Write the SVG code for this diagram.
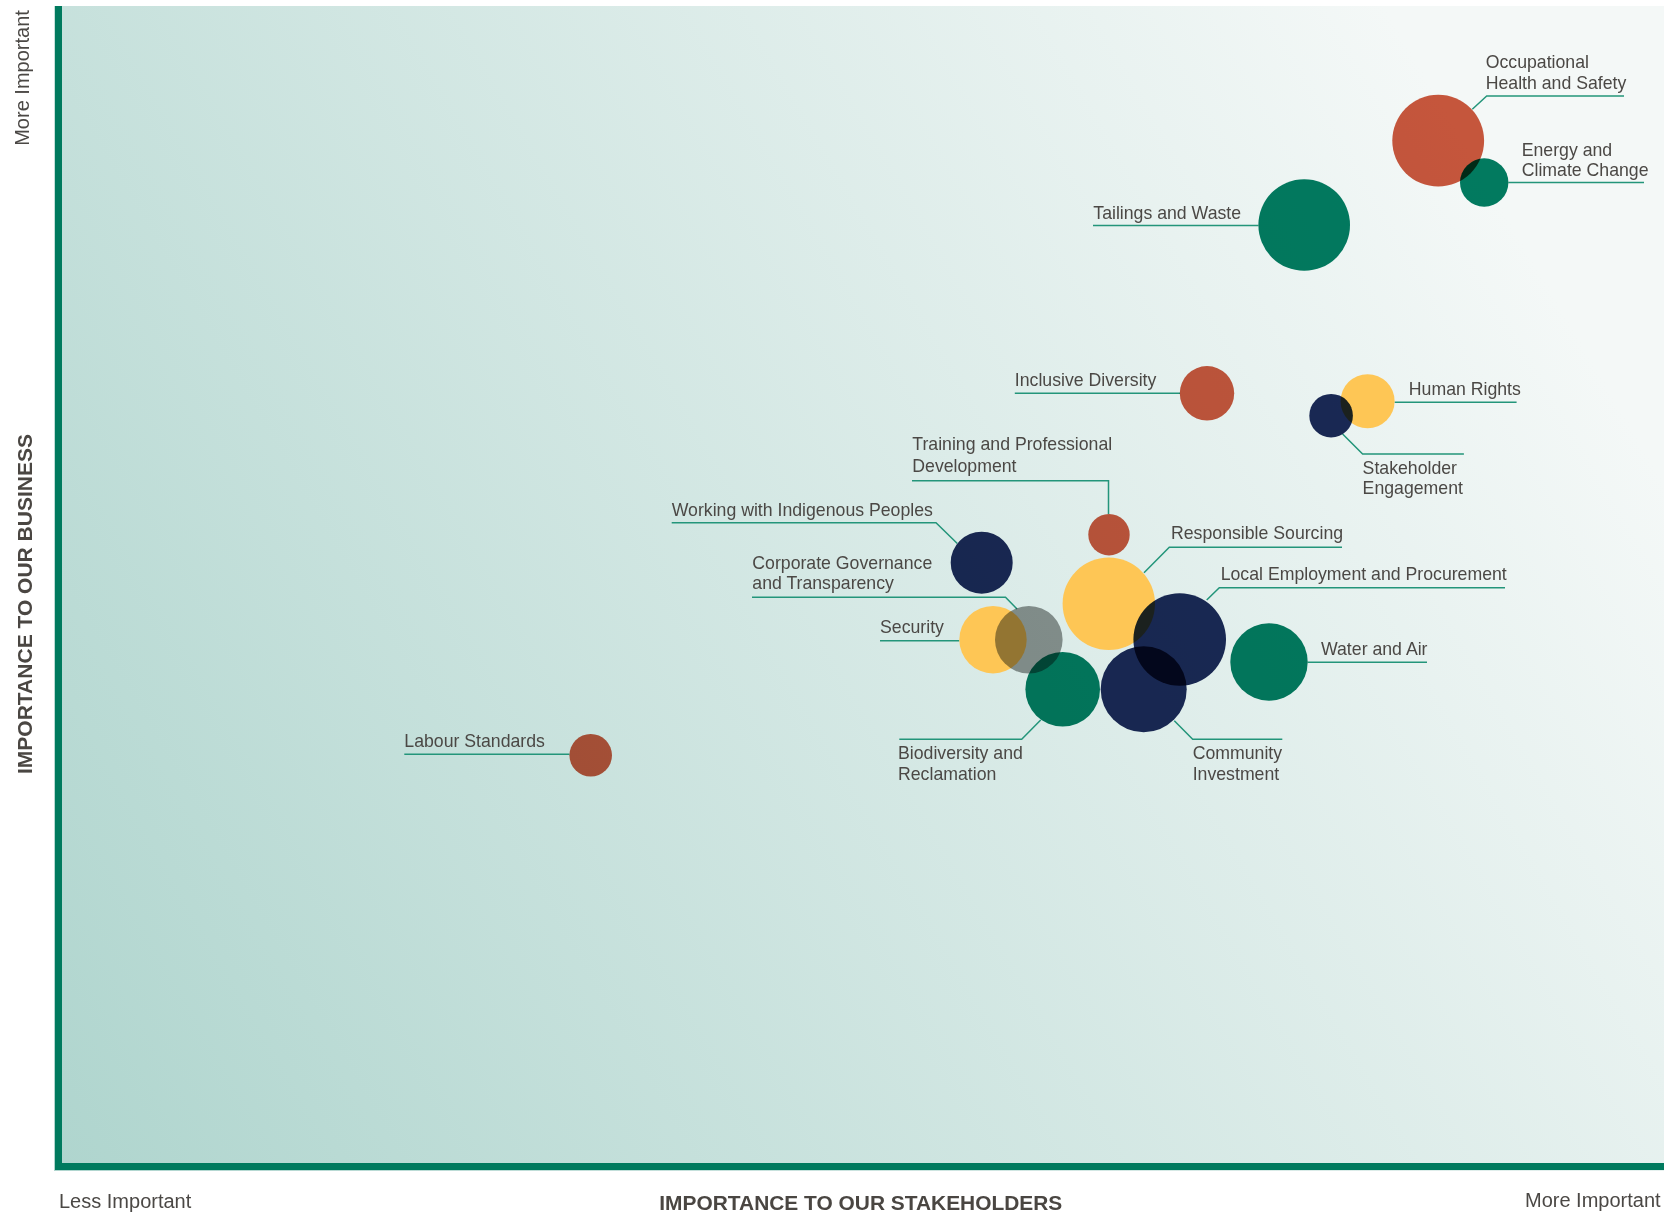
<svg xmlns="http://www.w3.org/2000/svg" width="1664" height="1215" viewBox="0 0 1664 1215">
<defs>
<linearGradient id="bg" gradientUnits="userSpaceOnUse" x1="58" y1="1170" x2="1553" y2="293">
<stop offset="0" stop-color="#afd5ce"/>
<stop offset="1" stop-color="#f4f8f7"/>
</linearGradient>
<style>
.lbl{font-family:"Liberation Sans",Arial,sans-serif;font-size:17.7px;fill:#4b4845}
.ax{font-family:"Liberation Sans",Arial,sans-serif;font-size:20px;fill:#4b4845}
.ttl{font-family:"Liberation Sans",Arial,sans-serif;font-size:19.5px;font-weight:700;fill:#4a4642}
.ttl2{font-family:"Liberation Sans",Arial,sans-serif;font-size:21px;font-weight:700;fill:#4a4642}
.ln{fill:none;stroke:#23957a;stroke-width:1.5}
.m{mix-blend-mode:multiply}
.red{fill:#ce583e}
.grn{fill:#027d62}
.nvy{fill:#1b2a58}
.yel{fill:#fec655}
.gry{fill:#949796}
</style>
</defs>
<rect x="0" y="0" width="1664" height="1215" fill="#ffffff"/>
<rect x="54" y="6" width="1610" height="1165" fill="url(#bg)"/>
<rect x="55" y="6" width="7" height="1164" fill="#007a5e"/>
<rect x="55" y="1163" width="1609" height="7" fill="#007a5e"/>

<g id="axes">
<text class="ax" x="59" y="1208">Less Important</text>
<text class="ax" x="1525" y="1207">More Important</text>
<text class="ttl" x="659.3" y="1210" textLength="403" lengthAdjust="spacingAndGlyphs">IMPORTANCE TO OUR STAKEHOLDERS</text>
<text class="ax" text-anchor="middle" transform="translate(28.5,78) rotate(-90)">More Important</text>
<text class="ttl2" text-anchor="middle" transform="translate(32,604) rotate(-90)" textLength="340" lengthAdjust="spacingAndGlyphs">IMPORTANCE TO OUR BUSINESS</text>
</g>

<g id="connectors">
<polyline class="ln" points="1472.3,109.3 1486.7,96 1624,96"/>
<polyline class="ln" points="1508.4,182.5 1644,182.5"/>
<polyline class="ln" points="1093,225.5 1258.4,225.5"/>
<polyline class="ln" points="1014.8,393.3 1180,393.3"/>
<polyline class="ln" points="1394.6,402.3 1516.6,402.3"/>
<polyline class="ln" points="1342.6,434 1362.6,454 1463.9,454"/>
<polyline class="ln" points="912,480.7 1108.5,480.7 1108.5,514"/>
<polyline class="ln" points="671.7,522.7 936,522.7 957.3,543.5"/>
<polyline class="ln" points="1144,572.7 1169.3,547.3 1342,547.3"/>
<polyline class="ln" points="1206.7,600 1219.3,587.7 1505,587.7"/>
<polyline class="ln" points="752,597.2 1005.5,597.2 1017,609"/>
<polyline class="ln" points="880,640.7 959.3,640.7"/>
<polyline class="ln" points="1307.7,662.3 1427,662.3"/>
<polyline class="ln" points="899.3,739.3 1021.7,739.3 1040.7,720"/>
<polyline class="ln" points="1174.3,720.7 1192.7,739.3 1282.3,739.3"/>
<polyline class="ln" points="404.3,754.3 569.4,754.3"/>
</g>

<g id="human-rights">
<circle class="yel" cx="1367.6" cy="401.2" r="27"/>
<text class="lbl" x="1408.8" y="395">Human Rights</text>
</g>
<g id="responsible-sourcing">
<circle class="yel" cx="1108.8" cy="603.8" r="46.2"/>
<text class="lbl" x="1171" y="539.3">Responsible Sourcing</text>
</g>
<g id="security">
<circle class="yel" cx="993" cy="639.7" r="33.7"/>
<text class="lbl" x="880" y="633.3">Security</text>
</g>
<g id="occupational-health-and-safety">
<circle class="red m" cx="1438.2" cy="140.7" r="45.9"/>
<text class="lbl" x="1485.7" y="68.3">Occupational</text>
<text class="lbl" x="1485.7" y="89.3">Health and Safety</text>
</g>
<g id="energy-and-climate-change">
<circle class="grn m" cx="1484.2" cy="182.5" r="24.2"/>
<text class="lbl" x="1521.7" y="155.7">Energy and</text>
<text class="lbl" x="1521.7" y="176">Climate Change</text>
</g>
<g id="tailings-and-waste">
<circle class="grn m" cx="1304.2" cy="225" r="45.8"/>
<text class="lbl" x="1093.3" y="219">Tailings and Waste</text>
</g>
<g id="inclusive-diversity">
<circle class="red m" cx="1207" cy="393.3" r="27.2"/>
<text class="lbl" x="1014.8" y="385.7">Inclusive Diversity</text>
</g>
<g id="stakeholder-engagement">
<circle class="nvy m" cx="1331.1" cy="415.7" r="21.8"/>
<text class="lbl" x="1362.6" y="474">Stakeholder</text>
<text class="lbl" x="1362.6" y="494">Engagement</text>
</g>
<g id="training-and-professional-development">
<circle class="red m" cx="1109" cy="534.7" r="20.7"/>
<text class="lbl" x="912.3" y="450">Training and Professional</text>
<text class="lbl" x="912.3" y="471.7">Development</text>
</g>
<g id="working-with-indigenous-peoples">
<circle class="nvy m" cx="981.7" cy="562.7" r="31"/>
<text class="lbl" x="671.7" y="516">Working with Indigenous Peoples</text>
</g>
<g id="local-employment-and-procurement">
<circle class="nvy m" cx="1179.7" cy="639.5" r="46.3"/>
<text class="lbl" x="1220.7" y="580">Local Employment and Procurement</text>
</g>
<g id="community-investment">
<circle class="nvy m" cx="1143.7" cy="689.2" r="43"/>
<text class="lbl" x="1192.7" y="759.3">Community</text>
<text class="lbl" x="1192.7" y="780">Investment</text>
</g>
<g id="water-and-air">
<circle class="grn m" cx="1269" cy="662" r="38.7"/>
<text class="lbl" x="1321" y="655">Water and Air</text>
</g>
<g id="biodiversity-and-reclamation">
<circle class="grn m" cx="1062.7" cy="689.3" r="37.3"/>
<text class="lbl" x="898" y="759.3">Biodiversity and</text>
<text class="lbl" x="898" y="780">Reclamation</text>
</g>
<g id="corporate-governance-and-transparency">
<circle class="gry m" cx="1028.8" cy="639.7" r="33.8"/>
<text class="lbl" x="752.3" y="569">Corporate Governance</text>
<text class="lbl" x="752.3" y="589.3">and Transparency</text>
</g>
<g id="labour-standards">
<circle class="red m" cx="590.7" cy="755.3" r="21.3"/>
<text class="lbl" x="404.3" y="746.7">Labour Standards</text>
</g>
</svg>
